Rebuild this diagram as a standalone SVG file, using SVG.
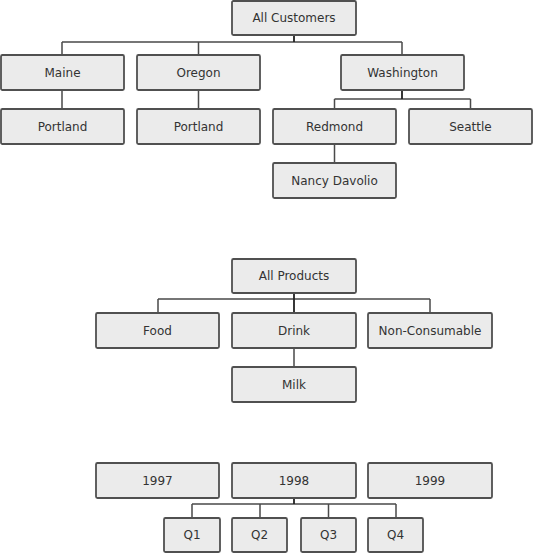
<svg xmlns="http://www.w3.org/2000/svg" width="533" height="553" viewBox="0 0 533 553">
<style>
.n rect{fill:#ebebeb;stroke:#505050;stroke-width:1.8}
.n text{font-family:"DejaVu Sans",Verdana,sans-serif;font-size:12px;fill:#333;text-anchor:middle}
#connectors path{fill:none;stroke:#4a4a4a;stroke-width:1.5}
#connectors path.stub{stroke:#222;stroke-width:1.8}
</style>
<rect width="533" height="553" fill="#fff"/>
<g id="connectors">
<path d="M62 42H402M62 42V55M198.5 42V55M402 42V55"/>
<path d="M62 90V109M198.5 90V109"/>
<path d="M334.5 99H470.5M334.5 99V109M470.5 99V109M334.5 144V163"/>
<path d="M158 299H430M158 299V313M430 299V313M294 348V367"/>
<path d="M192 504H396M192 504V518M260 504V518M328.5 504V518M396 504V518"/>
<path class="stub" d="M294 35V42M402 90V99M294 293V313M294 498V504"/>
</g>
<g id="all-customers" class="n"><rect x="232" y="1" width="124" height="34" rx="1.5"/><text x="294" y="22">All Customers</text></g>
<g id="maine" class="n"><rect x="1" y="55" width="123" height="35" rx="1.5"/><text x="62.5" y="76.5">Maine</text></g>
<g id="oregon" class="n"><rect x="137" y="55" width="123" height="35" rx="1.5"/><text x="198.5" y="76.5">Oregon</text></g>
<g id="washington" class="n"><rect x="341" y="55" width="123" height="35" rx="1.5"/><text x="402.5" y="76.5">Washington</text></g>
<g id="portland-maine" class="n"><rect x="1" y="109" width="123" height="35" rx="1.5"/><text x="62.5" y="130.5">Portland</text></g>
<g id="portland-oregon" class="n"><rect x="137" y="109" width="123" height="35" rx="1.5"/><text x="198.5" y="130.5">Portland</text></g>
<g id="redmond" class="n"><rect x="273" y="109" width="123" height="35" rx="1.5"/><text x="334.5" y="130.5">Redmond</text></g>
<g id="seattle" class="n"><rect x="409" y="109" width="123" height="35" rx="1.5"/><text x="470.5" y="130.5">Seattle</text></g>
<g id="nancy-davolio" class="n"><rect x="273" y="163" width="123" height="35" rx="1.5"/><text x="334.5" y="184.5">Nancy Davolio</text></g>
<g id="all-products" class="n"><rect x="232" y="259" width="124" height="34" rx="1.5"/><text x="294" y="280">All Products</text></g>
<g id="food" class="n"><rect x="96" y="313" width="123" height="35" rx="1.5"/><text x="157.5" y="334.5">Food</text></g>
<g id="drink" class="n"><rect x="232" y="313" width="124" height="35" rx="1.5"/><text x="294" y="334.5">Drink</text></g>
<g id="non-consumable" class="n"><rect x="368" y="313" width="124" height="35" rx="1.5"/><text x="430" y="334.5">Non-Consumable</text></g>
<g id="milk" class="n"><rect x="232" y="367" width="124" height="35" rx="1.5"/><text x="294" y="388.5">Milk</text></g>
<g id="y1997" class="n"><rect x="96" y="463" width="123" height="35" rx="1.5"/><text x="157.5" y="484.5">1997</text></g>
<g id="y1998" class="n"><rect x="232" y="463" width="124" height="35" rx="1.5"/><text x="294" y="484.5">1998</text></g>
<g id="y1999" class="n"><rect x="368" y="463" width="124" height="35" rx="1.5"/><text x="430" y="484.5">1999</text></g>
<g id="q1" class="n"><rect x="164" y="518" width="56" height="34" rx="1.5"/><text x="192" y="539">Q1</text></g>
<g id="q2" class="n"><rect x="232" y="518" width="55" height="34" rx="1.5"/><text x="259.5" y="539">Q2</text></g>
<g id="q3" class="n"><rect x="301" y="518" width="55" height="34" rx="1.5"/><text x="328.5" y="539">Q3</text></g>
<g id="q4" class="n"><rect x="368" y="518" width="55" height="34" rx="1.5"/><text x="395.5" y="539">Q4</text></g>
</svg>
